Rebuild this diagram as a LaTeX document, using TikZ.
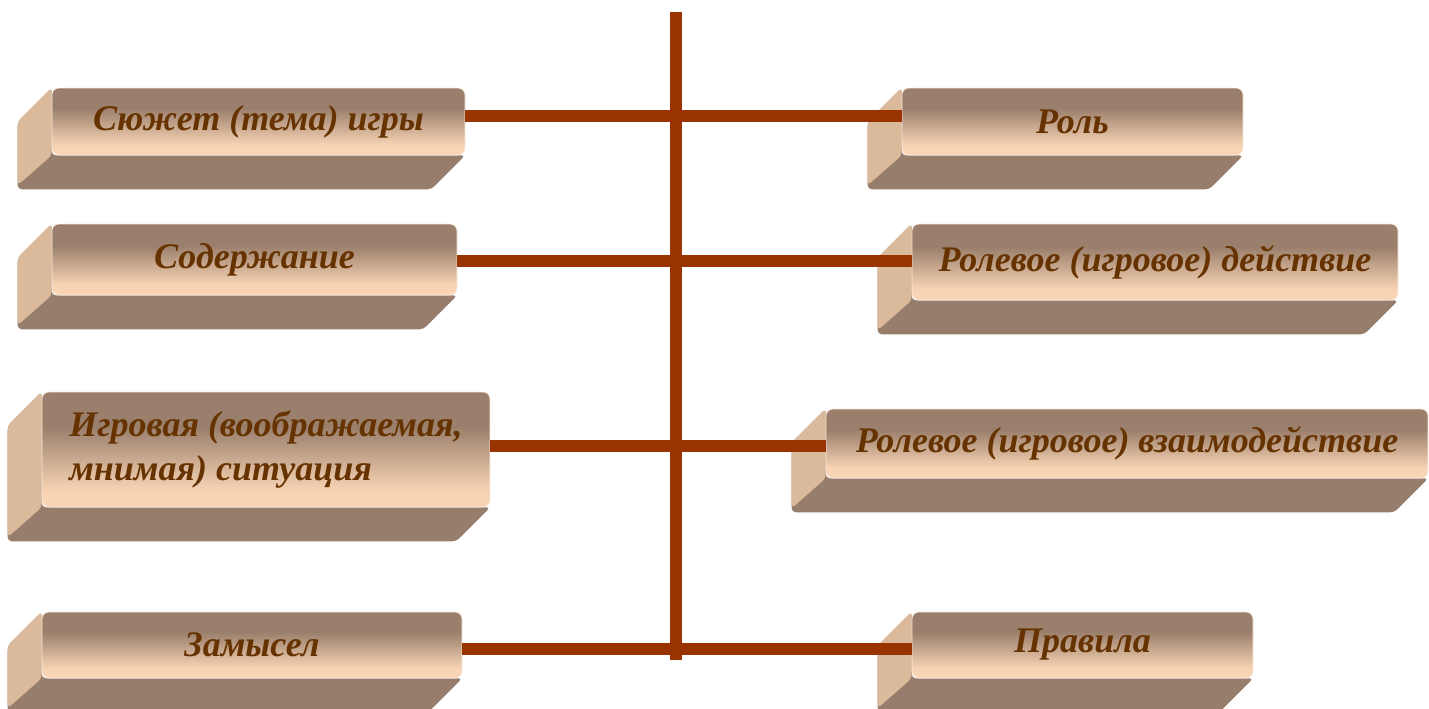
\documentclass[tikz,border=0pt]{standalone}
\usepackage{fontspec}
\setmainfont{Liberation Serif}
\usepackage{tikz}
\usetikzlibrary{calc,backgrounds}
\definecolor{trunkred}{HTML}{993300}
\definecolor{labelbrown}{HTML}{663300}
\definecolor{facetop}{HTML}{9A7F6C}
\definecolor{facebottom}{HTML}{F8D4B4}
\definecolor{sidetan}{HTML}{DBB99B}
\definecolor{undertan}{HTML}{977E6C}
\pgfdeclareverticalshading{facefade}{100bp}{color(0bp)=(facebottom); color(32bp)=(facebottom); color(60bp)=(facetop); color(100bp)=(facetop)}

\begin{document}
\begin{tikzpicture}[x=1pt, y=-1pt,
  face/.style={rounded corners=7pt, shading=facefade, draw=facebottom!50!white, line width=0.6pt,
    inner sep=0pt, font=\fontsize{36}{44}\selectfont\bfseries\itshape, text=labelbrown},
  link/.style={trunkred, line width=12pt},
  sideface/.style={fill=sidetan, rounded corners=4pt},
  underface/.style={fill=undertan, rounded corners=4pt}
]
  \useasboundingbox (0,0) rectangle (1429,709);

  % Left column
  \node[face, minimum width=413pt, minimum height=67pt] (plot) at (258.5,121.5) {Сюжет (тема) игры};
  \node[face, minimum width=405pt, minimum height=71pt] (content) at (254.5,259.5) {Содержание};
  \node[face, minimum width=448pt, minimum height=115pt, align=left] (situation) at (266,449.5)
    {Игровая (воображаемая,\\мнимая) ситуация};
  \node[face, minimum width=420pt, minimum height=66pt] (idea) at (252,645) {Замысел};

  % Right column
  \node[face, minimum width=341pt, minimum height=67pt] (role) at (1072.5,121.5) {Роль};
  \node[face, minimum width=486pt, minimum height=76pt] (action) at (1155,262) {Ролевое (игровое) действие};
  \node[face, minimum width=602pt, minimum height=69pt] (interact) at (1127,443.5) {Ролевое (игровое) взаимодействие};
  \node[face, minimum width=341pt, minimum height=66pt] (rules) at (1082.5,645) {Правила};

  % Extruded sides behind the faces
  \begin{scope}[on background layer]
    \foreach \n in {plot,content,situation,idea,role,action,interact,rules} {
      \fill[underface] (\n.north west) -- ++(-34,34) -- ([shift={(-34,34)}]\n.south west)
        -- ([shift={(-34,34)}]\n.south east) -- (\n.south east) -- (\n.south west) -- cycle;
      \fill[sideface] (\n.north west) -- ++(-34,34) -- ([shift={(-34,30)}]\n.south west)
        -- (\n.south west) -- cycle;
    }
  \end{scope}

  % Trunk
  \coordinate (trunktop) at (676,12);
  \coordinate (trunkbottom) at (676,660);
  \draw[link] (trunktop) -- (trunkbottom);

  % Branches
  \foreach \l/\r/\dy in {plot/role/5.5pt, content/action/-1.5pt, situation/interact/3.5pt, idea/rules/-4pt} {
    \draw[link] ([yshift=\dy]\l.east) -- ([yshift=\dy]\l.east -| \r.west);
  }

\end{tikzpicture}
\end{document}
